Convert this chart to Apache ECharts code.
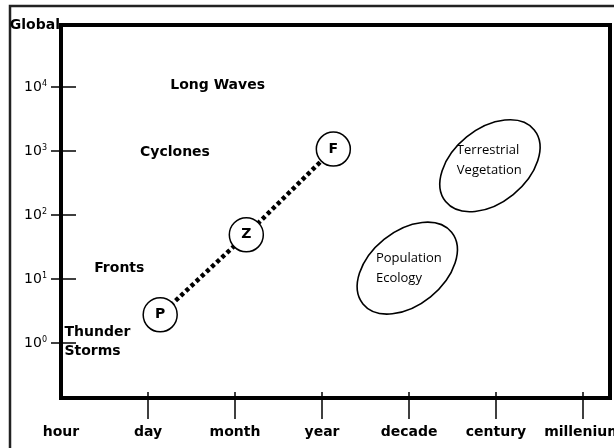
<!doctype html>
<html>
<head>
    <meta charset="UTF-8">
    <title>Scales</title>
    <script src="https://cdn.jsdelivr.net/npm/echarts@6.0.0/dist/echarts.min.js"></script>
    <style>
        html, body { margin: 0; padding: 0; background: #fff; }
        #main { width: 614px; height: 448px; }
    </style>
</head>
<body>
<div id="main"></div>
<script>
    // time scale along x, space scale (powers of ten) along y
    const xLabels = ['hour', 'day', 'month', 'year', 'decade', 'century', 'millenium'];
    const yExponents = [0, 1, 2, 3, 4];

    // P - Z - F chain
    const pathNames = ['P', 'Z', 'F'];
    const pathX = [1.14, 2.13, 3.13];
    const pathY = [0.44, 1.69, 3.03];

    // plain text phenomena
    const phenNames = ['Long Waves', 'Cyclones', 'Fronts', 'Thunder\nStorms'];
    const phenX = [1.80, 1.31, 0.67, 0.04];
    const phenY = [4.02, 2.98, 1.17, 0.02];

    // ellipse regions
    const blobNames = ['Population\nEcology', 'Terrestrial\nVegetation'];
    const blobX = [3.98, 4.93];
    const blobY = [1.17, 2.77];
    const blobTextX = [3.62, 4.55];
    const blobTextY = [1.16, 2.85];

    const fontMain = 'DejaVu Sans, Verdana, sans-serif';

    let myChart = echarts.init(document.getElementById('main'));

    let option = {
        animation: false,
        backgroundColor: '#fff',
        grid: {
            left: 61, right: 4, top: 25, bottom: 50,
            outerBoundsMode: 'none',
            show: true, borderColor: '#000', borderWidth: 4
        },
        graphic: [{
            type: 'rect',
            shape: { x: 10, y: 6, width: 640, height: 470 },
            style: { fill: 'none', stroke: '#222', lineWidth: 2.5 },
            silent: true
        }],
        xAxis: [{
            type: 'value', min: 0, max: 6.31,
            axisLine: { onZero: false, lineStyle: { color: '#000', width: 4 } },
            axisTick: { customValues: [1, 2, 3, 4, 5, 6], length: 21, lineStyle: { color: '#000', width: 1.5 } },
            axisLabel: {
                customValues: [0, 1, 2, 3, 4, 5, 6],
                formatter: v => xLabels[Math.round(v)],
                margin: 27, color: '#000', fontSize: 14, fontWeight: 'bold', fontFamily: fontMain
            },
            splitLine: { show: false }
        }, {
            type: 'value', min: 0, max: 6.31, position: 'bottom',
            axisLine: { show: false, onZero: false },
            axisTick: { inside: true, customValues: [1, 2, 3, 4, 5, 6], length: 6, lineStyle: { color: '#000', width: 1.5 } },
            axisLabel: { show: false },
            splitLine: { show: false }
        }],
        yAxis: [{
            type: 'value', min: -0.86, max: 4.97,
            axisLine: { onZero: false, lineStyle: { color: '#000', width: 4 } },
            axisTick: { customValues: yExponents, length: 10, lineStyle: { color: '#000', width: 1.5 } },
            axisLabel: {
                customValues: yExponents,
                formatter: v => '{b|10}{s|' + Math.round(v) + '}',
                margin: 14,
                rich: {
                    b: { fontSize: 14, fontFamily: fontMain, color: '#000' },
                    s: { fontSize: 8, fontFamily: fontMain, color: '#000', padding: [0, 0, 7, 0] }
                }
            },
            splitLine: { show: false }
        }, {
            type: 'value', min: -0.86, max: 4.97, position: 'left',
            axisLine: { show: false, onZero: false },
            axisTick: { inside: true, customValues: yExponents, length: 15, lineStyle: { color: '#000', width: 1.5 } },
            axisLabel: {
                customValues: [4.97],
                formatter: () => 'Global',
                margin: 1, color: '#000', fontSize: 14, fontWeight: 'bold', fontFamily: fontMain
            },
            splitLine: { show: false }
        }],
        series: [{
            name: 'regions',
            type: 'custom',
            silent: true,
            data: blobX.map((x, i) => [x, blobY[i]]),
            renderItem: function (params, api) {
                let p = api.coord([api.value(0), api.value(1)]);
                return {
                    type: 'ellipse',
                    x: p[0], y: p[1],
                    rotation: 0.68,
                    shape: { cx: 0, cy: 0, rx: 57, ry: 37 },
                    style: { fill: 'none', stroke: '#000', lineWidth: 1.6 }
                };
            }
        }, {
            name: 'regionText',
            type: 'scatter',
            symbolSize: 0,
            silent: true,
            itemStyle: { opacity: 1 },
            data: blobTextX.map((x, i) => ({ value: [x, blobTextY[i]], name: blobNames[i] })),
            label: {
                show: true, position: 'inside', align: 'left',
                formatter: p => p.name, opacity: 1,
                color: '#000', fontSize: 13, lineHeight: 20, fontFamily: 'Open Sans, Noto Sans, sans-serif'
            }
        }, {
            name: 'phenomena',
            type: 'scatter',
            symbolSize: 0,
            silent: true,
            itemStyle: { opacity: 1 },
            data: phenX.map((x, i) => ({
                value: [x, phenY[i]],
                name: phenNames[i],
                label: { align: i === 3 ? 'left' : 'center' }
            })),
            label: {
                show: true, position: 'inside',
                formatter: p => p.name, opacity: 1,
                color: '#000', fontSize: 14, fontWeight: 'bold', lineHeight: 19, fontFamily: fontMain
            }
        }, {
            name: 'chain',
            type: 'line',
            data: pathX.map((x, i) => ({ value: [x, pathY[i]], name: pathNames[i] })),
            symbol: 'circle',
            symbolSize: 34,
            itemStyle: { color: '#fff', borderColor: '#000', borderWidth: 1.5 },
            lineStyle: { color: '#000', width: 4.5, type: [4, 3] },
            label: {
                show: true, position: 'inside',
                formatter: p => p.name,
                color: '#000', fontSize: 14, fontWeight: 'bold', fontFamily: fontMain
            },
            z: 5
        }]
    };

    option && myChart.setOption(option);
</script>
</body>
</html>
